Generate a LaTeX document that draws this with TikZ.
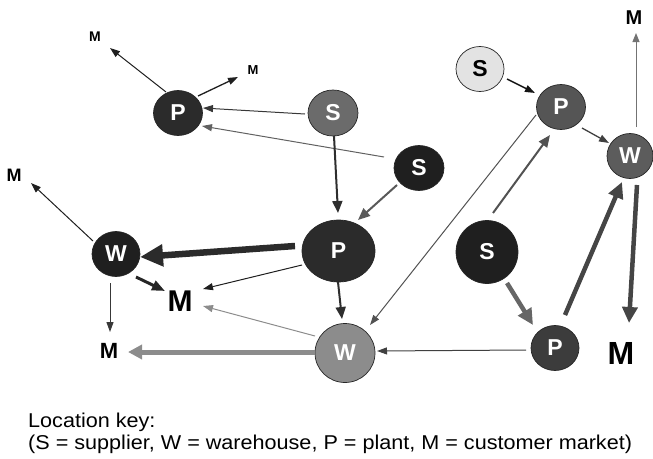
\documentclass[tikz,border=0pt]{standalone}
\usepackage{fontspec}
\setmainfont{Liberation Sans}
\usetikzlibrary{shapes.geometric,arrows.meta}
\definecolor{cA}{HTML}{2B2B2B}
\definecolor{cS1}{HTML}{6B6B6B}
\definecolor{cS2}{HTML}{1F1F1F}
\definecolor{cW2}{HTML}{8C8C8C}
\definecolor{cS3}{HTML}{E3E3E3}
\definecolor{cP3}{HTML}{555555}
\definecolor{cW3}{HTML}{5C5C5C}
\definecolor{cP4}{HTML}{3C3C3C}
\begin{document}
\begin{tikzpicture}[x=1pt,y=-1pt,
  loc/.style={ellipse,draw=black!85,line width=0.7pt,inner sep=0pt,text=white,
    font=\fontsize{23}{25}\selectfont\bfseries},
  mkt/.style={inner sep=0pt,font=\fontsize{#1}{#1}\selectfont\bfseries},
  keytext/.style={inner sep=0pt,anchor=base west,xscale=1.08,font=\fontsize{20}{22}\selectfont},
  thin/.style={-{Triangle[length=10pt,width=7pt]},line width=1pt,draw=#1},
  midw/.style={-{Triangle[length=12pt,width=10pt]},line width=2pt,draw=#1},
  medw/.style={-{Triangle[length=13pt,width=10pt]},line width=3pt,draw=#1},
  bigw/.style={-{Triangle[length=16pt,width=15pt]},line width=4.5pt,draw=#1},
  hugew/.style={-{Triangle[length=23pt,width=21pt]},line width=6.5pt,draw=#1},
  gw/.style={-{Triangle[length=14pt,width=14pt]},line width=5pt,draw=#1}]
\useasboundingbox (0,0) rectangle (653,458);

% locations
\node[loc,fill=cA,minimum width=49pt,minimum height=45pt] (P1) at (178,113) {P};
\node[loc,fill=cS1,minimum width=50pt,minimum height=46pt] (S1) at (333,113) {S};
\node[loc,fill=cS2,minimum width=50pt,minimum height=45pt] (S2) at (419,168) {S};
\node[loc,fill=cA,minimum width=73pt,minimum height=62pt] (P2) at (338.5,251) {P};
\node[loc,fill=cS2,minimum width=48pt,minimum height=45pt] (W1) at (116,254) {W};
\node[loc,fill=cW2,minimum width=60pt,minimum height=59pt] (W2) at (345,353) {W};
\node[loc,fill=cS3,text=black,minimum width=48pt,minimum height=45pt] (S3) at (480,69) {S};
\node[loc,fill=cP3,minimum width=49pt,minimum height=45pt] (P3) at (561,107) {P};
\node[loc,fill=cW3,minimum width=46pt,minimum height=45pt] (W3) at (630,156) {W};
\node[loc,fill=cS2,minimum width=62pt,minimum height=63pt] (S4) at (487,252) {S};
\node[loc,fill=cP4,minimum width=48pt,minimum height=45pt] (P4) at (555,348) {P};

% markets
\node[mkt=14] (M1) at (95,37) {M};
\node[mkt=13] (M2) at (253,70) {M};
\node[mkt=18] (M3) at (14,175) {M};
\node[mkt=30] (Mbig) at (180,301) {M};
\node[mkt=22] (Mbot) at (109,351) {M};
\node[mkt=20] (Mtr) at (634,18) {M};
\node[mkt=32] (Mbr) at (621,353) {M};

% key
\node[keytext] (key1) at (28,427) {Location key:};
\node[keytext] (key2) at (28,449.5) {(S = supplier, W = warehouse, P = plant, M = customer market)};

% flows
\draw[thin=black!78] ([shift={(-28,1)}]S1.center) -- ([shift={(25,-5)}]P1.center);
\draw[thin=black!62] ([shift={(-35,-11)}]S2.center) -- ([shift={(24,13)}]P1.center);
\draw[thin=black!88] ([shift={(-12,-21)}]P1.center) -- ([shift={(15,11)}]M1.center);
\draw[thin=black!88,line width=1.3pt] ([shift={(20,-17)}]P1.center) -- ([shift={(-15,7)}]M2.center);
\draw[midw=black!82] ([shift={(1,23)}]S1.center) -- ([shift={(-0.5,-38)}]P2.center);
\draw[midw=black!65] ([shift={(-22,17)}]S2.center) -- ([shift={(19.5,-31)}]P2.center);
\draw[hugew=cA] ([shift={(-43.5,-5)}]P2.center) -- ([shift={(24,3)}]W1.center);
\draw[thin=black!88] ([shift={(-36.5,14)}]P2.center) -- ([shift={(23,-12)}]Mbig.center);
\draw[thin=black!45] ([shift={(-30,-17)}]W2.center) -- ([shift={(23,5)}]Mbig.center);
\draw[gw=cW2] ([shift={(-30,-1)}]W2.center) -- ([shift={(19,1)}]Mbot.center);
\draw[thin=black!88] ([shift={(-23,-13)}]W1.center) -- ([shift={(17,8)}]M3.center);
\draw[medw=black!85] ([shift={(20,23)}]W1.center) -- ([shift={(-15,-10)}]Mbig.center);
\draw[thin=black!78] ([shift={(-6,29)}]W1.center) -- ([shift={(1,-19)}]Mbot.center);
\draw[midw=black!82] ([shift={(-0.5,31)}]P2.center) -- ([shift={(-3,-34)}]W2.center);
\draw[thin=black!68] ([shift={(-25,8)}]P3.center) -- ([shift={(25,-28)}]W2.center);
\draw[midw=black!68] ([shift={(6,-39)}]S4.center) -- ([shift={(-11,28)}]P3.center);
\draw[thin=black!92,line width=1.5pt] ([shift={(27,10)}]S3.center) -- ([shift={(-26,-14)}]P3.center);
\draw[thin=black!75,line width=1.3pt] ([shift={(21,21)}]P3.center) -- ([shift={(-21,-13)}]W3.center);
\draw[thin=black!55,-{Triangle[length=9pt,width=7pt]}] ([shift={(6,-29)}]W3.center) -- ([shift={(2,15)}]Mtr.center);
\draw[bigw=black!60] ([shift={(20,31)}]S4.center) -- ([shift={(-22,-23)}]P4.center);
\draw[bigw=black!73] ([shift={(10,-33)}]P4.center) -- ([shift={(-8,26)}]W3.center);
\draw[bigw=black!73] ([shift={(7,29)}]W3.center) -- ([shift={(8,-30)}]Mbr.center);
\draw[thin=black!75] ([shift={(-29,2)}]P4.center) -- ([shift={(32,-2)}]W2.center);
\end{tikzpicture}
\end{document}
